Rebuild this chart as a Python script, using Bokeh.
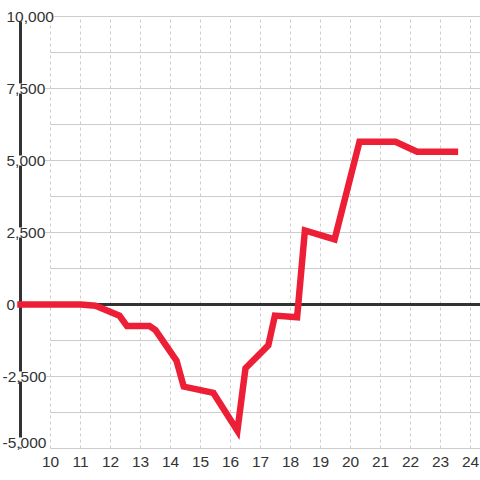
from bokeh.plotting import figure
from bokeh.models import Range1d, ColumnDataSource
from bokeh.embed import file_html
from bokeh.resources import INLINE
from bokeh.core.properties import value

# ---- data ----
hours = [9, 10, 11, 11.5, 12.3, 12.55, 13.3, 13.5, 14.2, 14.44, 15.43, 16.23,
         16.5, 17.26, 17.48, 18.22, 18.48, 19.47, 20.3, 21.5, 22.22, 23.48]
values = [0, 0, 0, -40, -390, -750, -750, -890, -1950, -2850, -3070, -4380,
          -2210, -1420, -385, -440, 2570, 2260, 5650, 5650, 5305, 5305]

y_ticks = [10000, 7500, 5000, 2500, 0, -2500, -5000]
y_labels = ["10,000", "7,500", "5,000", "2,500", "0", "-2,500", "-5,000"]
x_ticks = [10, 11, 12, 13, 14, 15, 16, 17, 18, 19, 20, 21, 22, 23, 24]
x_labels = ["10", "11", "12", "13", "14", "15", "16", "17", "18", "19", "20",
            "21", "22", "23", "24"]
grid_values = [10000, 8750, 7500, 6250, 5000, 3750, 2500, 1250,
               -1250, -2500, -3750, -5000]

X0, X1 = 8.3333, 24.3333
Y0, Y1 = -6111.1, 10555.6
AXIS_X = 9
FONT = "Liberation Sans"
TXT = "#333333"

p = figure(width=480, height=480, x_range=Range1d(X0, X1), y_range=Range1d(Y0, Y1),
           output_backend="svg", toolbar_location=None, min_border=0,
           x_axis_location=None, y_axis_location=None)
p.grid.visible = False
p.outline_line_color = None
p.background_fill_color = "white"
p.border_fill_color = "white"

# horizontal gridlines: labelled ones start at the axis, the rest at the first hour
labelled_mid = set(y_ticks[:-1])
g_x0 = [AXIS_X if v in labelled_mid else x_ticks[0] for v in grid_values]
g_x1 = [X1 for _ in grid_values]
p.segment(x0=g_x0, y0=grid_values, x1=g_x1, y1=grid_values,
          line_color="#cccccc", line_width=1)

# vertical dotted gridlines
p.segment(x0=x_ticks, y0=[min(y_ticks)] * len(x_ticks), x1=x_ticks,
          y1=[max(y_ticks)] * len(x_ticks),
          line_color="#cccccc", line_width=1, line_dash="3 3")

# vertical axis line
p.segment(x0=[AXIS_X], y0=[min(y_ticks)], x1=[AXIS_X], y1=[max(y_ticks)],
          line_color=TXT, line_width=3)

# zero line
p.segment(x0=[AXIS_X], y0=[0], x1=[X1], y1=[0], line_color=TXT, line_width=3)

# the series
p.line(hours, values, line_color="#ed1f37", line_width=6.5,
       line_join="miter", line_cap="square")

# y labels (left aligned, minus sign hanging, white background over axis/gridlines)
ysrc = ColumnDataSource(dict(
    x=[X0] * len(y_ticks), y=y_ticks, t=y_labels,
    bga=[0.0 if v == 0 else 1.0 for v in y_ticks],
    xo=[2 if v < 0 else 6 for v in y_ticks],
    yo=[-6 if v == min(y_ticks) else 0 for v in y_ticks],
))
p.text(x="x", y="y", text="t", source=ysrc, x_offset="xo", y_offset="yo",
       text_align="left", text_baseline="middle",
       text_font=value(FONT), text_font_size="15.5px", text_color=TXT,
       background_fill_color="white", background_fill_alpha="bga")

# x labels
p.text(x=x_ticks, y=[min(y_ticks)] * len(x_ticks), text=x_labels, y_offset=13,
       text_align="center", text_baseline="middle",
       text_font=value(FONT), text_font_size="15.5px", text_color=TXT)

open("out.html", "w").write(file_html(p, INLINE))
